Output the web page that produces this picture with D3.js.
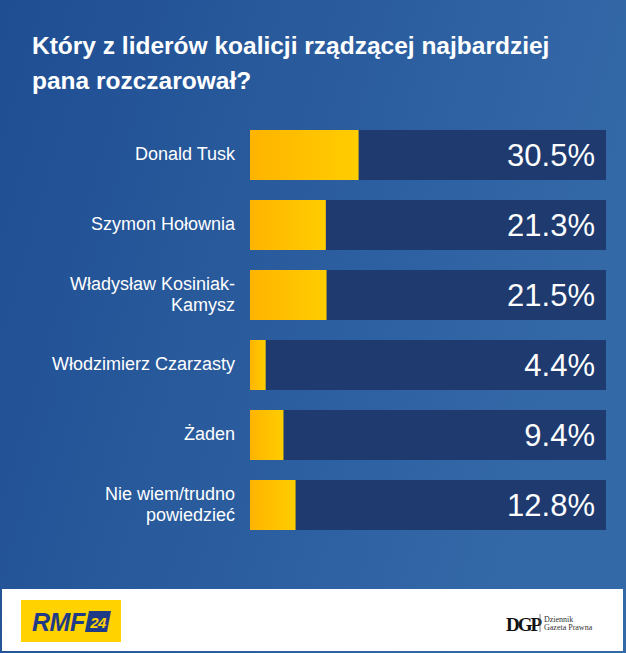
<!DOCTYPE html>
<html>
<head>
<meta charset="utf-8">
<script src="https://cdn.jsdelivr.net/npm/d3@7"></script>
<style>
html,body{margin:0;padding:0;background:#fff;}
svg{display:block;}
</style>
</head>
<body>
<div id="chart"></div>
<script>
const titleLines = ["Który z liderów koalicji rządzącej najbardziej", "pana rozczarował?"];
const categories = [
  ["Donald Tusk"],
  ["Szymon Hołownia"],
  ["Władysław Kosiniak-", "Kamysz"],
  ["Włodzimierz Czarzasty"],
  ["Żaden"],
  ["Nie wiem/trudno", "powiedzieć"]
];
const values = [30.5, 21.3, 21.5, 4.4, 9.4, 12.8];
const valueLabels = ["30.5%", "21.3%", "21.5%", "4.4%", "9.4%", "12.8%"];

const W = 626, H = 653;
const svg = d3.select("#chart").append("svg").attr("width", W).attr("height", H);
const defs = svg.append("defs");

const bg = defs.append("linearGradient").attr("id", "bg").attr("x1", "0").attr("y1", "0").attr("x2", "1").attr("y2", "0.3");
bg.append("stop").attr("offset", "0").attr("stop-color", "#1f4e92");
bg.append("stop").attr("offset", "1").attr("stop-color", "#3469a8");

const yg = defs.append("linearGradient").attr("id", "yg").attr("x1", "0").attr("y1", "0").attr("x2", "1").attr("y2", "0");
yg.append("stop").attr("offset", "0").attr("stop-color", "#ffb400");
yg.append("stop").attr("offset", "1").attr("stop-color", "#ffcd00");

svg.append("rect").attr("width", W).attr("height", H).attr("fill", "url(#bg)");

// title
svg.append("text")
  .attr("fill", "#fff")
  .attr("font-family", "Liberation Sans, Arial, sans-serif")
  .attr("font-weight", "bold")
  .attr("font-size", 24.5)
  .selectAll("tspan").data(titleLines).join("tspan")
  .attr("x", 32).attr("y", (d, i) => 54 + i * 35)
  .text(d => d);

const x = d3.scaleLinear().domain([0, 100]).range([250, 606]);
const y = d3.scaleBand().domain(d3.range(values.length)).range([120, 540]).paddingInner(20 / 70).paddingOuter(10 / 70);

const g = svg.append("g");
const rows = g.selectAll("g.row").data(values).join("g").attr("class", "row");

rows.append("rect")
  .attr("x", x(0)).attr("y", (d, i) => y(i))
  .attr("width", x(100) - x(0)).attr("height", y.bandwidth())
  .attr("fill", "#1e3a6f");

rows.append("rect")
  .attr("x", x(0)).attr("y", (d, i) => y(i))
  .attr("width", d => x(d) - x(0)).attr("height", y.bandwidth())
  .attr("fill", "url(#yg)");

rows.append("text")
  .attr("x", 595).attr("y", (d, i) => y(i) + y.bandwidth() / 2 + 11)
  .attr("text-anchor", "end")
  .attr("fill", "#fff")
  .attr("font-family", "Liberation Sans, Arial, sans-serif")
  .attr("font-size", 31)
  .text((d, i) => valueLabels[i]);

rows.append("text")
  .attr("text-anchor", "end")
  .attr("fill", "#fff")
  .attr("font-family", "Liberation Sans, Arial, sans-serif")
  .attr("font-size", 18)
  .each(function(d, i) {
    const lines = categories[i];
    const cy = y(i) + y.bandwidth() / 2;
    const lh = 21;
    const startY = cy + 5 - (lines.length - 1) * lh / 2;
    d3.select(this).selectAll("tspan").data(lines).join("tspan")
      .attr("x", 235)
      .attr("y", (l, j) => startY + j * lh)
      .text(l => l);
  });

// footer
svg.append("rect").attr("x", 2).attr("y", 589).attr("width", 621).attr("height", 62).attr("fill", "#fff");

// RMF24 logo
const logo = svg.append("g");
logo.append("rect").attr("x", 21).attr("y", 600).attr("width", 100).attr("height", 42).attr("fill", "#ffd200");
logo.append("text").attr("x", 32).attr("y", 631)
  .attr("font-family", "Liberation Sans, Arial, sans-serif").attr("font-weight", "bold").attr("font-style", "italic")
  .attr("font-size", 25).attr("fill", "#1f3a86").attr("letter-spacing", -0.5).text("RMF");
logo.append("path").attr("d", "M89,611 L111,611 L107,632 L85,632 Z").attr("fill", "#1f3a86");
logo.append("text").attr("x", 98).attr("y", 628).attr("text-anchor", "middle")
  .attr("font-family", "Liberation Sans, Arial, sans-serif").attr("font-weight", "bold").attr("font-style", "italic")
  .attr("font-size", 15).attr("fill", "#ffd200").attr("letter-spacing", -0.5).text("24");

// DGP logo
const dgp = svg.append("g");
dgp.append("text").attr("x", 506).attr("y", 631)
  .attr("font-family", "Liberation Serif, serif").attr("font-weight", "bold")
  .attr("font-size", 19).attr("letter-spacing", -2).attr("fill", "#111").text("DGP");
dgp.append("line").attr("x1", 540).attr("x2", 540).attr("y1", 614).attr("y2", 632).attr("stroke", "#666").attr("stroke-width", 0.8);
dgp.append("text").attr("x", 544).attr("y", 622)
  .attr("font-family", "Liberation Serif, serif").attr("font-size", 8).attr("fill", "#333").text("Dziennik");
dgp.append("text").attr("x", 544).attr("y", 630)
  .attr("font-family", "Liberation Serif, serif").attr("font-size", 8).attr("fill", "#333").text("Gazeta Prawna");
</script>
</body>
</html>
